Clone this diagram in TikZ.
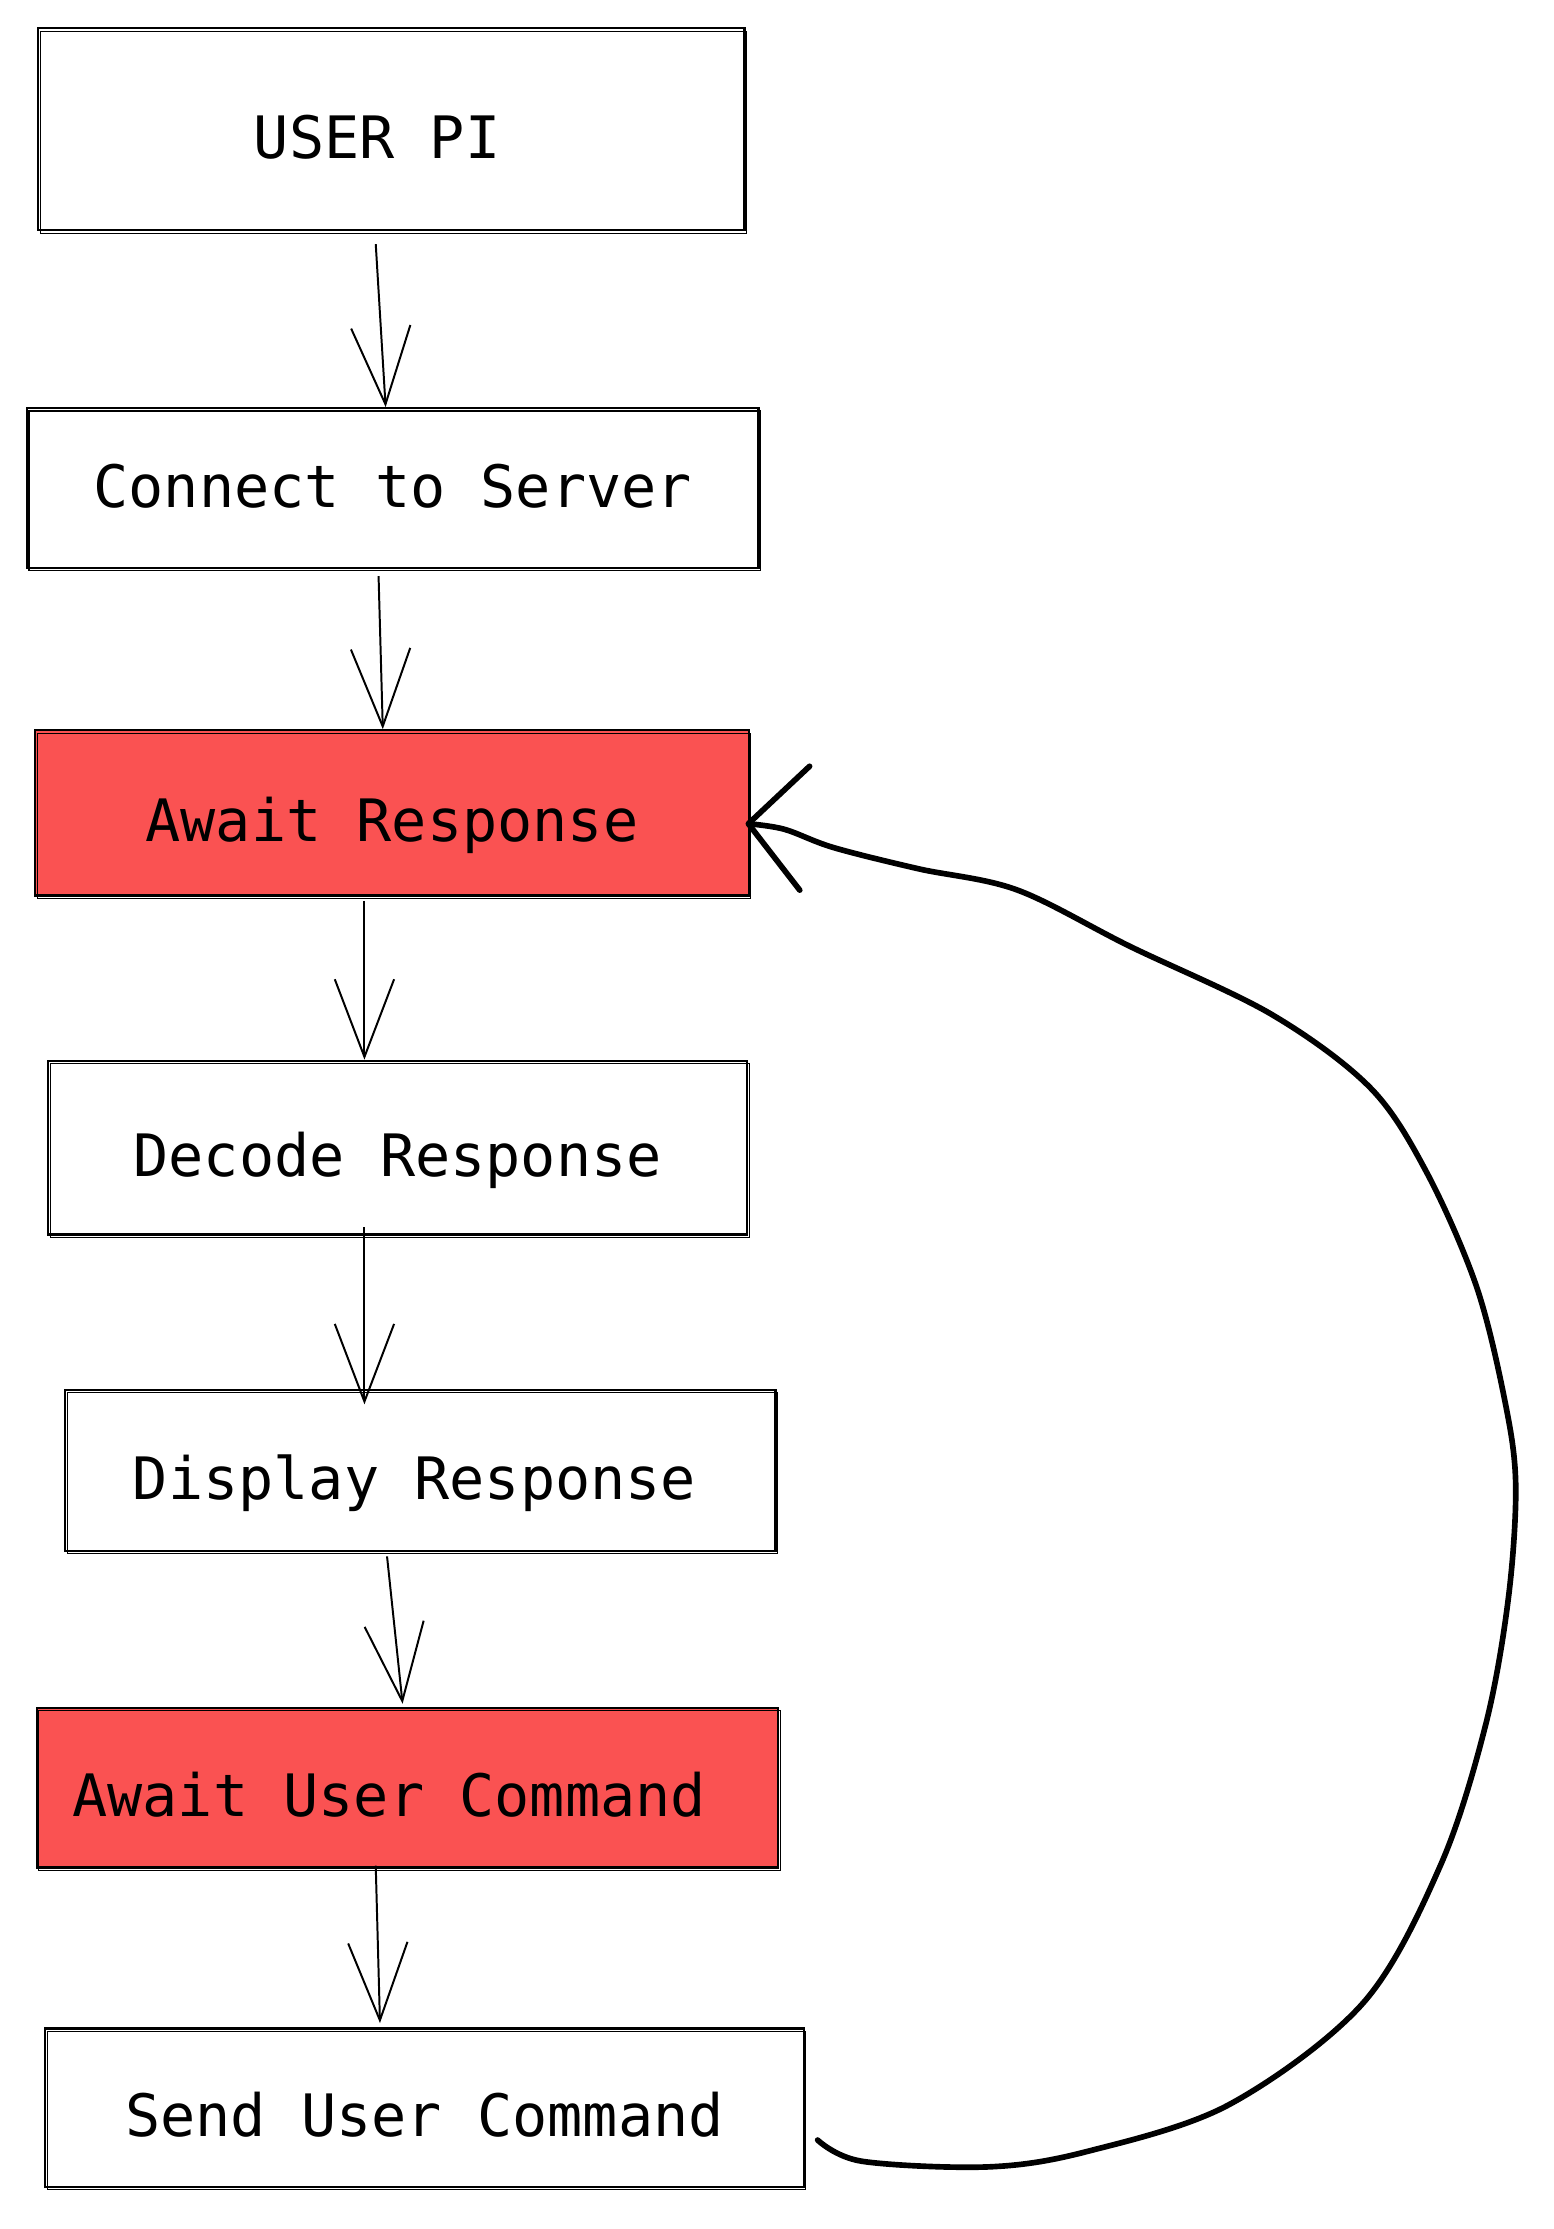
\documentclass[tikz,border=0pt]{standalone}
\usepackage{fontspec}
\usepackage{tikz}
\usetikzlibrary{arrows.meta}
\newfontfamily\monofam{DejaVu Sans Mono}
\definecolor{excred}{HTML}{FA5252}
\tikzset{
	box/.style={draw, line width=1.6pt, inner sep=0pt, text height=41pt, text depth=0pt,
		font=\monofam\fontsize{41.4}{45}\selectfont,
		postaction={draw, line width=0.8pt, transform canvas={xshift=1.5pt, yshift=-2pt}}},
	redbox/.style={box, fill=excred},
	flow/.style={line width=1.4pt, -{Straight Barb[length=55pt, width=42pt]}},
	loopback/.style={line width=4pt, line cap=round, line join=round,
		-{Straight Barb[length=40pt, width=88pt, round]}}
}

\begin{document}
\begin{tikzpicture}[x=1pt, y=-1pt]
		\useasboundingbox (0,0) rectangle (1100,1578);
		\node[box, minimum width=500pt, minimum height=143pt](user)at(277, 91.5){\kern-20pt USER PI};
		\node[box, minimum width=518pt, minimum height=113pt, text height=27pt](connect)at(278, 345.5){Connect to Server};
		\node[redbox, minimum width=505pt, minimum height=117pt](awaitresp)at(277.5, 575.5){Await Response};
		\node[box, minimum width=495pt, minimum height=123pt](decode)at(281.5, 812.5){Decode Response};
		\node[box, minimum width=503pt, minimum height=114pt](display)at(297.5, 1041){\kern-8pt Display Response};
		\node[redbox, minimum width=525pt, minimum height=113pt](awaitcmd)at(288.5, 1265.5){\kern-26pt Await User Command};
		\node[box, minimum width=537pt, minimum height=112pt](send)at(300.5, 1492){Send User Command};
		\draw[flow]([xshift=-11pt, yshift=-9pt]user.south)--([xshift=-5pt]connect.north);
		\draw[flow]([xshift=-10pt, yshift=-5pt]connect.south)--([xshift=-6.5pt]awaitresp.north);
		\draw[flow]([xshift=-19.5pt, yshift=-3pt]awaitresp.south)--([xshift=-23.5pt]decode.north);
		\draw[flow]([xshift=-23.5pt, yshift=6pt]decode.south)--([xshift=-39.5pt, yshift=-11pt]display.north);
		\draw[flow]([xshift=-23.5pt, yshift=-3pt]display.south)--([xshift=-3.5pt, yshift=2pt]awaitcmd.north);
		\draw[flow]([xshift=-22.5pt, yshift=2pt]awaitcmd.south)--([xshift=-31.5pt, yshift=3pt]send.north);
		\draw[loopback]plot[smooth, tension=0.55]coordinates{([xshift=9pt, yshift=-23pt]send.east)
			(610, 1530) (700, 1534) (770, 1523) (870, 1490) (965, 1418) (1020, 1320) (1052, 1220)
			(1068, 1130) (1073, 1050) (1065, 990) (1045, 910) (1010, 830) (970, 770) (900, 718)
			(800, 670) (720, 630) (650, 615) (590, 600) (555, 587) ([xshift=-3pt, yshift=-7.5pt]awaitresp.east)};
	\end{tikzpicture}
\end{document}
